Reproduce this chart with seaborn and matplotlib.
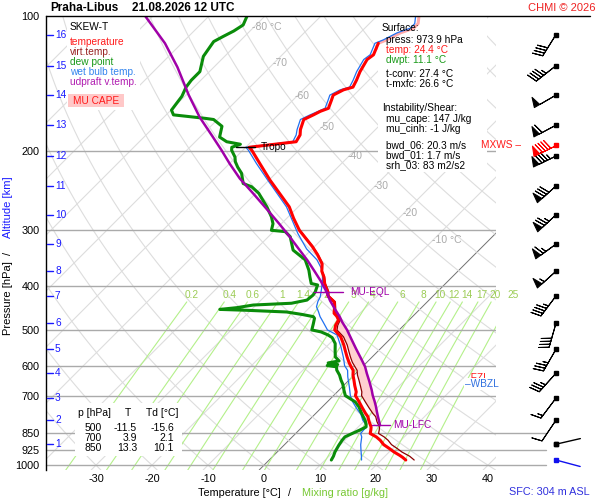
import numpy as np
import matplotlib
matplotlib.use('Agg')
import matplotlib.pyplot as plt
from matplotlib.patches import Rectangle
from matplotlib.ticker import NullLocator
import seaborn as sns

# ---- sounding values (hPa, degC) ----
temp_p = [973.9, 960, 950, 935, 918, 900, 880, 865, 850, 835, 822, 800, 780, 767, 745, 723,
          700, 687, 665, 647, 630, 615, 604, 590, 574, 555, 540, 518, 500, 488, 475, 466,
          459, 445, 433, 420, 411, 401, 394, 381, 370, 356, 340, 326, 300, 282, 266, 248,
          232, 213, 199, 196, 190.5, 184, 179, 170, 166, 163, 160.5, 154, 150, 146, 144,
          139, 133, 125, 122, 115, 113, 109, 106.5, 104, 100]
temp_t = [24.4, 23.3, 22.4, 20.9, 19.4, 17.7, 16.3, 15.0, 13.3, 12.8, 12.3, 11.0, 9.9, 8.9, 7.3, 5.7,
          3.9, 3.4, 2.0, 0.9, -0.2, -1.0, -2.0, -3.2, -4.5, -6.0, -7.2, -9.2, -11.5, -12.2, -12.6, -13.6,
          -14.6, -15.6, -16.6, -18.8, -19.6, -20.8, -21.6, -22.9, -24.3, -25.6, -28.0, -30.4, -35.6, -38.8, -41.6, -45.8,
          -49.8, -54.6, -58.4, -59.4, -52.0, -52.5, -53.4, -54.6, -53.7, -53.1, -52.2, -53.1, -53.7, -52.8, -51.6,
          -52.2, -53.1, -54.0, -53.7, -54.9, -54.0, -52.8, -51.3, -51.3, -52.5]

dew_p = [973.9, 955, 934, 903, 880, 865, 850, 836, 822, 810, 794, 767, 741, 723, 700, 681,
         660, 647, 630, 614, 604, 600, 597, 592, 586, 574, 555, 536, 520, 513, 505, 500,
         485, 471, 467, 462, 456, 452, 450, 446, 440, 436, 429, 418, 411, 397, 394, 381,
         368, 349, 332, 310, 302, 300, 290, 280, 266, 248, 240, 236, 224, 217, 211, 206,
         199, 196, 193, 190.5, 186, 176, 170, 169, 166, 162, 156.5, 151, 144, 139, 133, 123,
         114, 111, 108, 104.7, 100]
dew_t = [11.1, 10.8, 10.3, 9.8, 9.5, 9.4, 10.1, 10.8, 11.4, 10.9, 10.0, 8.2, 6.5, 5.0, 2.1, 0.9,
         -0.4, -1.4, -2.6, -4.0, -4.6, -6.5, -4.8, -6.8, -5.2, -6.6, -7.8, -9.0, -10.6, -11.8, -13.6, -15.6,
         -16.4, -17.2, -17.7, -20.0, -23.3, -30.8, -35.7, -33.0, -30.5, -24.0, -21.8, -21.6, -21.8, -22.6, -24.0, -25.4,
         -26.8, -29.3, -33.2, -36.1, -37.9, -40.6, -41.5, -43.0, -45.6, -49.5, -51.9, -54.0, -56.1, -57.9, -59.3, -60.2,
         -62.0, -62.5, -61.5, -64.4, -66.5, -68.0, -70.7, -72.4, -78.7, -79.9, -80.2, -80.5, -81.4, -81.7, -81.7, -83.8,
         -84.6, -83.8, -82.9, -82.3, -83.2]

wb_p = [973.9, 950, 925, 900, 865, 850, 835, 822, 810, 794, 770, 750, 725, 700, 670, 636,
        615, 600, 585, 575, 545, 513, 500, 480, 467, 455, 444, 432, 422, 405, 387, 368,
        349, 330, 305, 266, 232, 213, 199, 196, 190.5, 184, 179, 170, 166, 160.5, 154, 150,
        146, 144, 139, 133, 125, 122, 115, 113, 109, 106.5, 104, 100]
wb_t = [16.5, 15.6, 14.6, 13.6, 12.4, 11.6, 11.5, 11.5, 10.8, 9.6, 8.2, 6.6, 4.7, 3.0, 1.3, -0.8,
        -2.0, -3.4, -4.4, -5.1, -7.4, -10.2, -12.8, -15.0, -16.5, -17.7, -18.9, -19.6, -20.0, -21.2, -22.6, -24.4,
        -27.2, -31.0, -35.3, -42.1, -50.2, -55.2, -59.0, -60.0, -52.6, -53.2, -54.0, -55.2, -54.3, -52.8, -53.7, -54.3,
        -53.4, -52.2, -52.8, -53.7, -54.6, -54.3, -55.5, -54.6, -53.4, -51.9, -51.9, -53.1]

tv_p = [973.9, 955, 935, 918, 900, 880, 865, 850, 835, 822, 800, 780, 767, 745, 723, 700,
        687, 665, 647, 630, 615, 604, 590, 574, 555, 540, 518, 500, 488, 475, 466, 459,
        445, 433, 420, 411, 401, 394, 381, 370, 356, 340, 326, 300]
tv_t = [25.9, 24.4, 22.3, 20.8, 19.1, 17.7, 16.4, 14.8, 14.3, 13.8, 12.4, 11.3, 10.2, 8.5, 6.8, 5.0,
        4.4, 3.0, 1.8, 0.6, -0.3, -1.3, -2.6, -3.9, -5.4, -6.6, -8.7, -11.1, -11.8, -12.3, -13.3, -14.3,
        -15.4, -16.4, -18.6, -19.4, -20.6, -21.5, -22.8, -24.2, -25.5, -27.9, -30.3, -35.5]

parcel_p = [815, 800, 780, 760, 740, 720, 700, 680, 650, 625, 604, 580, 550, 525, 500, 480,
            467, 450, 430, 411, 390, 370, 350, 330, 310, 290, 270, 250, 230, 213, 199, 185,
            168, 150, 130, 115, 100]
parcel_t = [13.6, 12.8, 11.7, 10.6, 9.5, 8.3, 7.0, 5.8, 3.8, 2.0, 0.5, -1.6, -4.4, -6.8, -9.3, -11.6,
            -13.0, -15.1, -17.6, -19.8, -22.6, -25.6, -28.8, -32.4, -36.2, -40.4, -45.0, -50.0, -55.5, -60.0, -63.8, -68.0,
            -73.6, -79.5, -86.5, -93.0, -101.4]

# levels and labels
p_ticks = [100, 200, 300, 400, 500, 600, 700, 850, 925, 1000]
t_ticks = [-30, -20, -10, 0, 10, 20, 30, 40]
mix_w = [0.2, 0.4, 0.6, 1, 1.4, 2, 3, 4, 6, 8, 10, 12, 14, 17, 20, 25]
iso_lab_t = [-80, -70, -60, -50, -40, -30, -20, -10]
iso_lab_p = [106, 127, 151, 177, 205, 239, 275, 315]
km_levels = list(range(1, 17))
km_p = [898, 794, 709, 624, 552, 483, 420, 370, 322, 277, 239, 205, 175, 150, 129, 110]

# wind at each km level (kt, direction from)
wind_spd = [3, 10, 15, 35, 35, 40, 45, 55, 65, 75, 80, 85, 60, 50, 45, 40]
wind_dir = [77, 214, 217, 222, 210, 196, 217, 228, 234, 227, 228, 244, 242, 240, 232, 212]
mxws_p, mxws_spd, mxws_dir = 194, 90, 244
sfc_p, sfc_spd, sfc_dir = 973.9, 3, 105

tropo_p, tropo_t = 196, -59.4
eql_p, eql_t = 411, -19.6
lfc_p, lfc_t = 815, 13.6
fzl_p, wbzl_p = 640, 660

tab_p = [500, 700, 850]
tab_t = [-11.5, 3.9, 13.3]
tab_td = [-15.6, 2.1, 10.1]

info_lines = [('Surface:', 'black', 382, 28), ('press: 973.9 hPa', 'black', 386, 40),
              ('temp: 24.4 °C', '#ff1a1a', 386, 50), ('dwpt: 11.1 °C', '#1a9a1a', 386, 60),
              ('t-conv: 27.4 °C', 'black', 386, 74), ('t-mxfc: 26.6 °C', 'black', 386, 84),
              ('Instability/Shear:', 'black', 382, 108), ('mu_cape: 147 J/kg', 'black', 386, 119),
              ('mu_cinh: -1 J/kg', 'black', 386, 129), ('bwd_06: 20.3 m/s', 'black', 386, 145),
              ('bwd_01: 1.7 m/s', 'black', 386, 155), ('srh_03: 83 m2/s2', 'black', 386, 165)]
legend_lines = [('SKEW-T', 'black'), ('temperature', '#ff1a1a'), ('virt.temp.', '#992222'),
                ('dew point', '#1a9a1a'), ('wet bulb temp.', '#3385ee'), ('udpraft v.temp.', '#b01cb0')]

sns.set_theme(style='white')
plt.rcParams['font.family'] = ['Liberation Sans', 'DejaVu Sans']
plt.rcParams['axes.unicode_minus'] = False

W, H = 600, 500
K = 195 / 5.6                      # isotherms at 45 degrees
XL, XR = (46 - 264) / 5.6, (496 - 264) / 5.6
PBOT, PTOP = 1025, 100


def skx(t, p):
    return np.asarray(t, float) + K * np.log(1000.0 / np.asarray(p, float))


def px2x(px):
    return (px - 264) / 5.6


fig = plt.figure(figsize=(6, 5), dpi=100)
fig.patch.set_facecolor('white')
ax = fig.add_axes([46 / W, 1 - 470 / H, 450 / W, 454 / H])
ax.set_yscale('log')
ax.set_facecolor('white')


def ftext(x, y, s, **kw):
    kw.setdefault('fontsize', 7.3)
    kw.setdefault('va', 'center')
    kw.setdefault('color', 'black')
    return fig.text(x / W, 1 - y / H, s, **kw)


def fbox(x0, y0, x1, y1, color='white', z=2):
    ax.add_patch(Rectangle((x0 / W, 1 - y1 / H), (x1 - x0) / W, (y1 - y0) / H,
                           transform=fig.transFigure, facecolor=color, edgecolor='none',
                           zorder=z, clip_on=False))


# background: isotherms, dry adiabats, mixing ratio lines
pp = np.geomspace(PBOT, PTOP, 60)
for t0 in range(-130, 50, 10):
    ax.plot(skx([t0, t0], [PBOT, PTOP]), [PBOT, PTOP],
            color='#707070' if t0 == 0 else '#dddddd', lw=0.7 if t0 == 0 else 0.8, zorder=1)
for th in range(-130, 200, 10):
    ax.plot(skx((th + 273.15) * (pp / 1000) ** 0.2857 - 273.15, pp), pp,
            color='#dddddd', lw=0.8, zorder=1)
pm = np.geomspace(PBOT, 433, 20)
for w in mix_w:
    le = np.log(w * pm / (622 + w) / 6.112)
    ax.plot(skx(243.5 * le / (17.67 - le), pm), pm, color='#b4f08a', lw=0.8, zorder=1.1)
    le = np.log(w * 418 / (622 + w) / 6.112)
    ax.text(skx(243.5 * le / (17.67 - le), 418), 418, f'{w:g}', color='#9ccc55',
            fontsize=7.3, ha='center', va='center', zorder=1.2)
for t0, p0 in zip(iso_lab_t, iso_lab_p):
    lab = f'{t0} °C' if t0 in (-80, -10) else f'{t0}'
    ax.text(skx(t0, p0) - 0.3, p0, lab, color='#aaaaaa', fontsize=7.5, ha='left', va='center', zorder=1.2)

for p in p_ticks[1:7]:
    ax.plot([XL, XR], [p, p], color='#aaaaaa', lw=1, zorder=1.5)
for p in p_ticks[7:]:
    ax.plot([XL, px2x(546)], [p, p], color='#aaaaaa', lw=1, zorder=1.5, clip_on=False)
ax.plot([XL, px2x(590)], [100, 100], color='black', lw=1, zorder=5, clip_on=False)

# white panels
fbox(67, 17, 140, 110)
fbox(378, 17, 487, 172)
fbox(75, 403, 182, 456)
fbox(68, 94, 124, 107, color='#ffc8c8', z=2.1)

# CAPE area between parcel and virtual temperature
tv_on_parcel = np.interp(np.log(parcel_p)[::-1], np.log(tv_p)[::-1], np.array(tv_t)[::-1])[::-1]
inside = (np.array(parcel_p) <= lfc_p) & (np.array(parcel_p) >= eql_p - 5)
ax.fill_betweenx(parcel_p, skx(tv_on_parcel, parcel_p), skx(parcel_t, parcel_p),
                 where=inside & (np.array(parcel_t) > tv_on_parcel), interpolate=True,
                 color='#ffd0d0', lw=0, zorder=2.5)

# profiles
sns.lineplot(x=skx(tv_t, tv_p), y=tv_p, sort=False, estimator=None, color='#8b0000',
             lw=0.9, ax=ax, zorder=3.2)
sns.lineplot(x=skx(wb_t, wb_p), y=wb_p, sort=False, estimator=None, color='#2070f0',
             lw=0.9, ax=ax, zorder=3.4)
sns.lineplot(x=skx(dew_t, dew_p), y=dew_p, sort=False, estimator=None, color='#0a8c0a',
             lw=2.2, ax=ax, zorder=3.6)
tp = np.array(temp_p)
tt = np.array(temp_t)
lo = tp >= 115
hi = tp <= 115
sns.lineplot(x=skx(tt[lo], tp[lo]), y=tp[lo], sort=False, estimator=None, color='#ff0000',
             lw=2.2, ax=ax, zorder=3.8)
sns.lineplot(x=skx(tt[hi], tp[hi]), y=tp[hi], sort=False, estimator=None, color='#ffaaaa',
             lw=2.2, ax=ax, zorder=3.3)
sns.lineplot(x=skx(parcel_t, parcel_p), y=parcel_p, sort=False, estimator=None, color='#a000a8',
             lw=1.8, ax=ax, zorder=4)

# markers: tropopause, EQL, LFC, freezing levels
xt = skx(tropo_t, tropo_p)
ax.plot([xt - 13 / 5.6, xt + 6 / 5.6], [tropo_p, tropo_p], color='black', lw=1, zorder=5)
ax.text(xt + 12 / 5.6, tropo_p, 'Tropo', fontsize=7.3, va='center', color='black', zorder=6)
xe = skx(eql_t, eql_p)
ax.plot([xe - 14 / 5.6, xe + 15 / 5.6], [eql_p, eql_p], color='#a000a8', lw=1, zorder=5)
ax.text(xe + 22 / 5.6, eql_p, 'MU-EQL', fontsize=7.3, va='center', color='#a000a8', zorder=6)
xf = skx(lfc_t, lfc_p)
ax.plot([xf - 8 / 5.6, xf + 10 / 5.6], [lfc_p, lfc_p], color='#a000a8', lw=1, zorder=5)
ax.text(xf + 13 / 5.6, lfc_p, 'MU-LFC', fontsize=7.3, va='center', color='#a000a8', zorder=6)
ya = ax.get_yaxis_transform()
ax.text((465 - 46) / 450, fzl_p, '–FZL', transform=ya, fontsize=7.3, va='center',
        color='#ff1a1a', zorder=6)
ax.text((465 - 46) / 450, wbzl_p, '–WBZL', transform=ya, fontsize=7.3, va='center',
        color='#3070e0', zorder=7,
        bbox=dict(facecolor='white', edgecolor='none', pad=0.8))

# altitude ticks
for km, p in zip(km_levels, km_p):
    ax.plot([1 / 450, 7 / 450], [p, p], transform=ya, color='#1a1aff', lw=1, zorder=6)
    ax.text(9 / 450, p, str(km), transform=ya, fontsize=7.3, va='center', color='#1a1aff', zorder=6)

ax.set_yticks(p_ticks, labels=[str(p) for p in p_ticks])
ax.yaxis.set_minor_locator(NullLocator())
ax.set_xticks(t_ticks, labels=[str(t) for t in t_ticks])
ax.tick_params(axis='both', length=0, labelsize=7.8, colors='black')
ax.tick_params(axis='y', pad=4.5)
ax.tick_params(axis='x', pad=3)
for s in ['top', 'right', 'bottom']:
    ax.spines[s].set_visible(False)
ax.spines['left'].set_color('black')
ax.spines['left'].set_linewidth(1)
ax.set_xlabel('')
ax.set_ylabel('')
ax.set_xlim(XL, XR)
ax.set_ylim(PBOT, PTOP)

# wind barbs
bax = fig.add_axes([496 / W, 1 - 470 / H, 104 / W, 454 / H])
bax.set_yscale('log')
bax.patch.set_visible(False)
bax.axis('off')
spd = np.array(wind_spd, float)
rad = np.radians(wind_dir)
kp = np.array(km_p, float)
strong = spd >= 5
bax.barbs(np.full(strong.sum(), 60.0), kp[strong], (-spd * np.sin(rad))[strong],
          (-spd * np.cos(rad))[strong], length=6.0, lw=0.75, color='black', zorder=3)
bax.plot(np.full(len(kp), 60.0), kp, 's', ms=2.6, color='black', zorder=4)
for s_, d_, p_, c_ in [(wind_spd[0], wind_dir[0], km_p[0], 'black'), (sfc_spd, sfc_dir, sfc_p, '#1010ee')]:
    r_ = np.radians(d_)
    bax.plot([60, 60 + 25 * np.sin(r_)], [p_, p_ * np.exp(-25 * np.cos(r_) / 195)], color=c_, lw=1)
    bax.plot([60], [p_], 's', ms=2.6, color=c_)
r_ = np.radians(mxws_dir)
bax.barbs([60.0], [mxws_p], [-mxws_spd * np.sin(r_)], [-mxws_spd * np.cos(r_)],
          length=6.0, lw=0.75, color='#ff0000', zorder=5)
bax.plot([60], [mxws_p], 's', ms=2.6, color='#ff0000', zorder=6)
bax.text(25, mxws_p, 'MXWS –', ha='right', va='center', fontsize=7.3, color='#ff1a1a')
bax.set_xlim(0, 104)
bax.set_ylim(PBOT, PTOP)

# legend panel, info panel, table
for i, (s, c) in enumerate(legend_lines):
    ftext(70, 27 + 10 * i + (5 if i else 0), s, color=c)
ftext(96, 101, 'MU CAPE', ha='center', color='#ff1a1a')
for s, c, x, y in info_lines:
    ftext(x, y, s, color=c)
ftext(78, 413, 'p [hPa]', fontsize=7.5)
ftext(128, 413, 'T', ha='center', fontsize=7.5)
ftext(146, 413, 'Td [°C]', fontsize=7.5)
for i, (p, t, td) in enumerate(zip(tab_p, tab_t, tab_td)):
    y = 428 + 10 * i
    ftext(102, y, str(p), ha='right', fontsize=7.5)
    ftext(137, y, f'{t:.1f}', ha='right', fontsize=7.5)
    ftext(174, y, f'{td:.1f}', ha='right', fontsize=7.5)

# titles and axis captions
ftext(50, 8, 'Praha-Libus', fontsize=8.5, fontweight='bold')
ftext(132, 8, '21.08.2026 12 UTC', fontsize=8.5, fontweight='bold')
ftext(596, 8, 'CHMI © 2026', ha='right', fontsize=8, color='#ee2222')
ftext(239, 493, 'Temperature [°C]', ha='center', fontsize=7.8)
ftext(289, 493, '/', ha='center', fontsize=7.8)
ftext(345, 493, 'Mixing ratio [g/kg]', ha='center', fontsize=7.8, color='#77c832')
ftext(590, 492, 'SFC: 304 m ASL', ha='right', fontsize=7.8, color='#3030dd')
ftext(8, 298, 'Pressure [hPa]', rotation=90, ha='center', fontsize=8)
ftext(8, 253, '/', rotation=90, ha='center', fontsize=8)
ftext(8, 207, 'Altitude [km]', rotation=90, ha='center', fontsize=8, color='#1a1aff')

fig.savefig('out.png', dpi=100)
